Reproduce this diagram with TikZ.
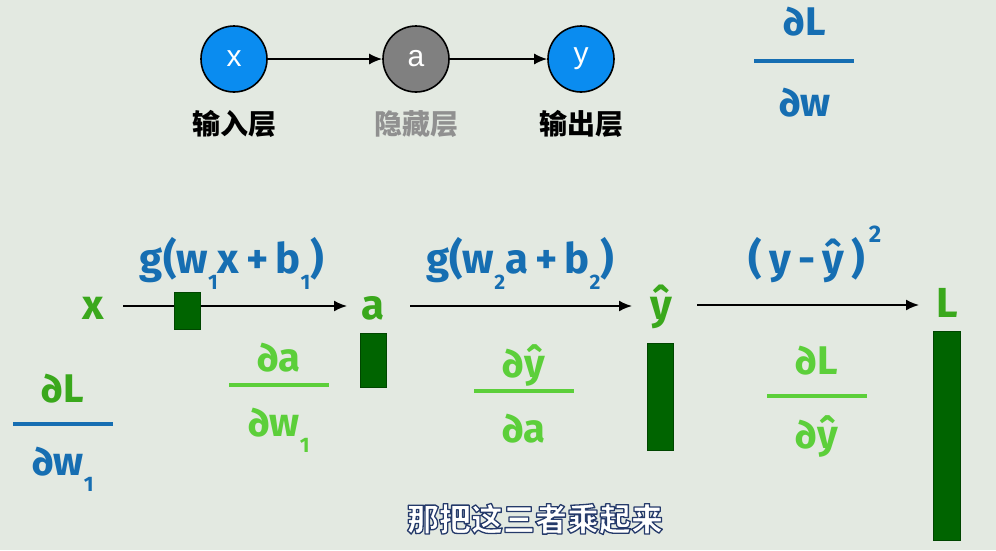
\documentclass[tikz,border=0pt]{standalone}
\usepackage{fontspec}
\setmainfont{Fira Sans}
\newfontfamily\cjk{Noto Sans CJK SC}
\newfontfamily\arialf{Liberation Sans}
\usetikzlibrary{arrows.meta}
\definecolor{bgc}{HTML}{E3E9E1}
\definecolor{blueT}{HTML}{166EB2}
\definecolor{blueC}{HTML}{0A8CF0}
\definecolor{grayC}{HTML}{808080}
\definecolor{grayT}{HTML}{909090}
\definecolor{greenD}{HTML}{3AA81C}
\definecolor{greenL}{HTML}{5CCF3A}
\definecolor{barG}{HTML}{006400}
\newcommand\sbs[1]{\raisebox{-0.40em}{\fontsize{21}{21}\selectfont #1}}
\newcommand\outlined[1]{\special{pdf:literal direct 2 Tr 1.3 w 1 j 0.145 0.227 0.416 RG 1 1 1 rg}#1\special{pdf:literal direct 0 Tr 1 w 0 j}}
\tikzset{
  neuron/.style={circle,draw=black,line width=1.6pt,minimum size=66pt,inner sep=0pt,text=white,font=\arialf\fontsize{30}{30}\selectfont},
  layerlbl/.style={font=\cjk\bfseries\fontsize{28}{28}\selectfont,inner sep=0pt},
  arr/.style={draw=black,line width=1.8pt,-{Latex[length=13pt,width=11pt]}},
  big/.style={font=\bfseries\fontsize{42}{42}\selectfont,inner sep=0pt},
  frac/.style={font=\bfseries\fontsize{40}{40}\selectfont,inner sep=0pt},
  fbar/.style={line width=4pt},
  gbar/.style={fill=barG,draw=barG!70!black,line width=0.5pt},
  subt/.style={font=\cjk\bfseries\fontsize{32}{32}\selectfont,inner sep=0pt}
}
\begin{document}
\begin{tikzpicture}[x=1pt,y=-1pt]
\fill[bgc] (0,0) rectangle (996,550);
\useasboundingbox (0,0) rectangle (996,550);
% top network
\node[neuron,fill=blueC] (nx) at (234,59) {x};
\node[neuron,fill=grayC] (na) at (416,59) {a};
\node[neuron,fill=blueC] (ny) at (581,59) {y};
\draw[arr] (nx) -- (na);
\draw[arr] (na) -- (ny);
\node[layerlbl,text=black] (lx) at (234,124) {输入层};
\node[layerlbl,text=grayT] (la) at (416,124) {隐藏层};
\node[layerlbl,text=black] (ly) at (581,124) {输出层};
% top right fraction
\node[frac,text=blueT,anchor=base] (tn) at (805,35) {∂L};
\draw[fbar,blueT] (754,61) -- (854,61);
\node[frac,text=blueT,anchor=base] (td) at (805,116) {∂w};
% chain
\node[big,text=greenD,anchor=base] (cx) at (93,319) {x};
\node[big,text=greenD,anchor=base] (ca) at (373,319) {a};
\node[big,text=greenD,anchor=base] (cy) at (661,319) {ŷ};
\node[big,text=greenD,anchor=base] (cL) at (947,317) {L};
\coordinate (s1) at (123,306);
\coordinate (e1) at (347,306);
\coordinate (s2) at (410,306);
\coordinate (e2) at (632,306);
\coordinate (s3) at (697,305);
\coordinate (e3) at (919,305);
\draw[arr] (s1) -- (e1);
\draw[arr] (s2) -- (e2);
\draw[arr] (s3) -- (e3);
\node[big,text=blueT,anchor=base] (g1) at (232,273) {g(w\sbs{1}x\,+\,b\sbs{1})};
\node[big,text=blueT,anchor=base] (g2) at (520,273) {g(w\sbs{2}a\,+\,b\sbs{2})};
\node[big,text=blueT,anchor=base] (g3) at (815,273) {(\,y\,-\,ŷ\,)\raisebox{0.72em}{\fontsize{24}{24}\selectfont\,2}};
% bars
\draw[gbar] (174,292) rectangle (200,329);
\draw[gbar] (360,333) rectangle (386,387);
\draw[gbar] (647,343) rectangle (673,450);
\draw[gbar] (933,331) rectangle (960,540);
% fractions
\node[frac,text=greenL,anchor=base] (f1n) at (279,371) {∂a};
\draw[fbar,greenL] (229,385) -- (329,385);
\node[frac,text=greenL,anchor=base] (f1d) at (279,436) {∂w\sbs{1}};
\node[frac,text=greenL,anchor=base] (f2n) at (524,377) {∂ŷ};
\draw[fbar,greenL] (474,391) -- (574,391);
\node[frac,text=greenL,anchor=base] (f2d) at (524,442) {∂a};
\node[frac,text=greenL,anchor=base] (f3n) at (817,374) {∂L};
\draw[fbar,greenL] (767,396) -- (867,396);
\node[frac,text=greenL,anchor=base] (f3d) at (817,448) {∂ŷ};
\node[frac,text=greenD,anchor=base] (f0n) at (63,402) {∂L};
\draw[fbar,blueT] (13,424) -- (113,424);
\node[frac,text=blueT,anchor=base] (f0d) at (63,475) {∂w\sbs{1}};
% subtitle with outline
\node[subt,text=white] (sub) at (535,519) {\outlined{那把这三者乘起来}};
\end{tikzpicture}
\end{document}
